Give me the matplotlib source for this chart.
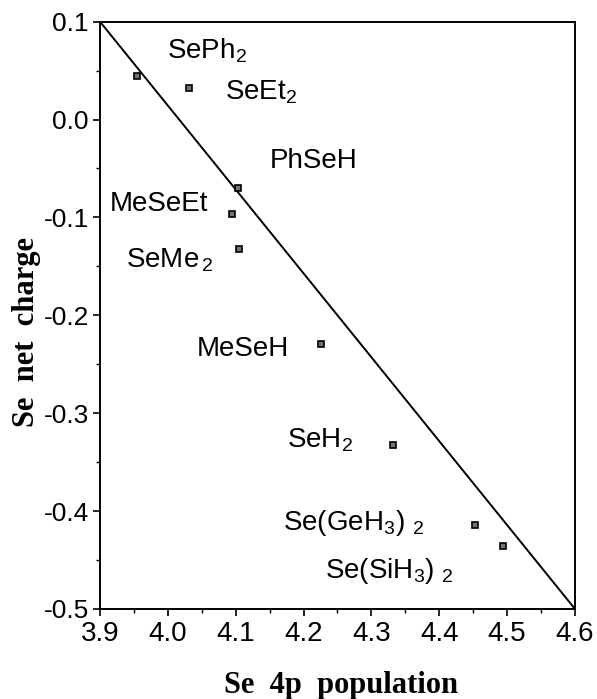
import numpy as np
import matplotlib
matplotlib.use("Agg")
import matplotlib.pyplot as plt
from matplotlib.ticker import MultipleLocator, FormatStrFormatter

# ── data ──────────────────────────────────────────────────────────────────────
se_4p = [3.955, 4.031, 4.104, 4.094, 4.105, 4.225, 4.332, 4.452, 4.494]
se_charge = [0.045, 0.032, -0.070, -0.097, -0.132, -0.229, -0.332, -0.414, -0.436]

names = [r"SePh$_2$", r"SeEt$_2$", "PhSeH", "MeSeEt", r"SeMe$_{\,2}$",
         "MeSeH", r"SeH$_2$", r"Se(GeH$_3$) $_2$", r"Se(SiH$_3$) $_2$"]
name_x = [3.999, 4.084, 4.150, 3.915, 3.938, 4.043, 4.175, 4.170, 4.232]
name_y = [0.062, 0.020, -0.049, -0.093, -0.151, -0.242, -0.335, -0.419, -0.468]

# reference line
line_x = [3.9, 4.6]
line_y = [0.1, -0.5]

# ── style ─────────────────────────────────────────────────────────────────────
plt.rcParams["font.family"] = ["Liberation Sans", "DejaVu Sans"]
plt.rcParams["mathtext.fontset"] = "custom"
plt.rcParams["mathtext.rm"] = "Liberation Sans"
plt.rcParams["mathtext.it"] = "Liberation Sans"
plt.rcParams["mathtext.default"] = "regular"

fig = plt.figure(figsize=(5.97, 6.99), dpi=100)
ax = fig.add_axes([0.1675, 0.1288, 0.7956, 0.8402])

ax.plot(line_x, line_y, color="black", linewidth=1.4)
ax.plot(se_4p, se_charge, linestyle="none", marker="s", markersize=4.2,
        markerfacecolor="0.45", markeredgecolor="black", markeredgewidth=1.2)

for n, x, y in zip(names, name_x, name_y):
    ax.text(x, y, n, fontsize=20, ha="left", va="baseline")

ax.set_xlim(3.9, 4.6)
ax.set_ylim(-0.5, 0.1)
ax.xaxis.set_major_locator(MultipleLocator(0.1))
ax.xaxis.set_minor_locator(MultipleLocator(0.05))
ax.yaxis.set_major_locator(MultipleLocator(0.1))
ax.yaxis.set_minor_locator(MultipleLocator(0.05))
ax.xaxis.set_major_formatter(FormatStrFormatter("%.1f"))
ax.yaxis.set_major_formatter(FormatStrFormatter("%.1f"))
ax.tick_params(which="major", direction="out", length=5, width=1.2, pad=4)
ax.tick_params(which="minor", direction="out", length=3, width=1.0)
ax.tick_params(axis="x", labelsize=20, pad=4)
ax.tick_params(axis="y", labelsize=19, pad=3)
ax.set_yticks(ax.get_yticks())
ax.set_yticklabels([f"{v:.1f}" for v in ax.get_yticks()])
ax.set_xticks(ax.get_xticks())
ax.set_xticklabels([f"{v:.1f}" for v in ax.get_xticks()])
ax.set_xlim(3.9, 4.6)
ax.set_ylim(-0.5, 0.1)
for s in ax.spines.values():
    s.set_linewidth(1.4)

ax.set_xlabel("Se  4p  population", fontsize=22, fontweight="bold",
              family="Liberation Serif")
ax.set_ylabel("Se  net  charge", fontsize=22, fontweight="bold",
              family="Liberation Serif")
ax.xaxis.set_label_coords(0.508, -0.105)
ax.yaxis.set_label_coords(-0.125, 0.472)

fig.savefig("out.png", dpi=100)
